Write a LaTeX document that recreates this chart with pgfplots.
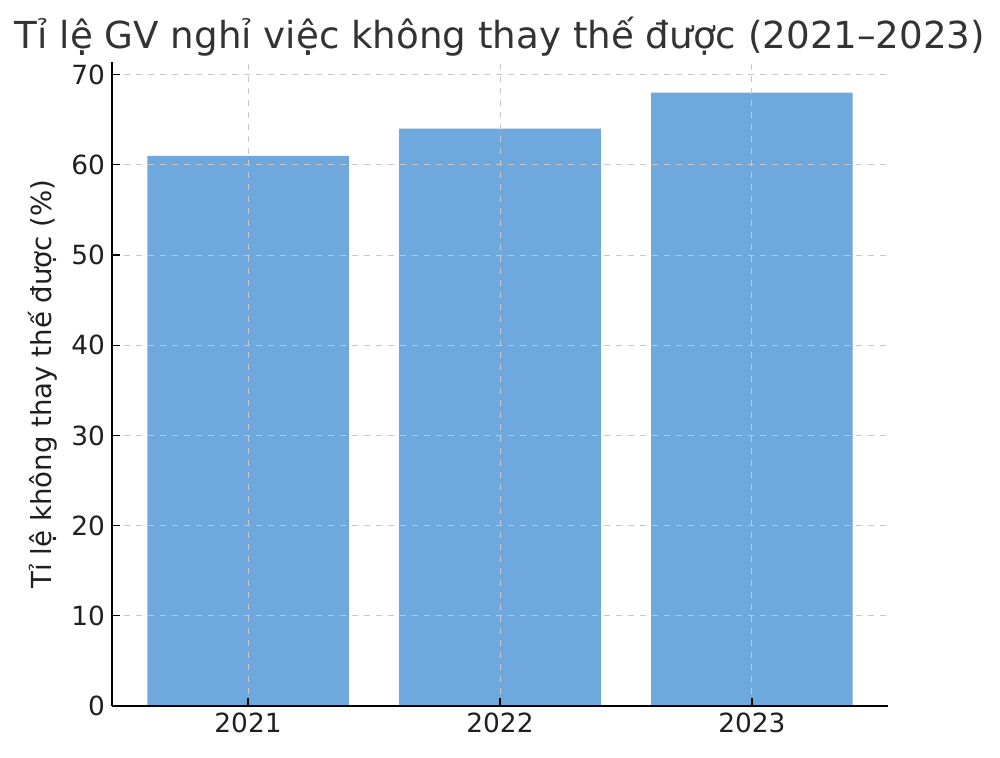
\documentclass[border=0pt]{standalone}
\usepackage{pgfplots}
\pgfplotsset{compat=1.18}
\usepackage{fontspec}
\setmainfont{DejaVu Sans}
\definecolor{barblue}{HTML}{6FA8DC}
\definecolor{txt}{HTML}{333333}
\definecolor{gridc}{HTML}{C8C8C8}
\begin{document}
\begin{tikzpicture}
\useasboundingbox (-56pt,-26pt) rectangle (444pt,353pt);
\begin{axis}[
  at={(0pt,0pt)}, anchor=south west,
  scale only axis, width=388pt, height=322pt,
  xmin=-0.54, xmax=2.54, ymin=0, ymax=71.4,
  axis lines*=left,
  axis line style={black, line width=0.8pt},
  xtick={0,1,2}, xticklabels={2021,2022,2023},
  ytick={0,10,20,30,40,50,60,70},
  tick align=inside, major tick length=4pt,
  tick style={black, line width=0.6pt},
  ticklabel style={font=\fontsize{13.2}{15}\selectfont, text=txt!60!black},
  /pgf/number format/assume math mode=true,
  xmajorgrids, ymajorgrids,
  grid style={gridc, dashed, line width=0.5pt},
  axis on top,
  title={Tỉ lệ GV nghỉ việc không thay thế được (2021–2023)},
  title style={font=\fontsize{18.6}{22}\selectfont, text=txt, at={(0.5,1)}, anchor=base, yshift=0.5pt},
  ylabel={Tỉ lệ không thay thế được (\%)},
  ylabel style={font=\fontsize{13.8}{15}\selectfont, text=txt!60!black},
  ylabel shift=0pt,
]
\addplot[ybar, bar width=0.8, fill=barblue, draw=none] coordinates {(0,61) (1,64) (2,68)};
\end{axis}
\end{tikzpicture}
\end{document}
